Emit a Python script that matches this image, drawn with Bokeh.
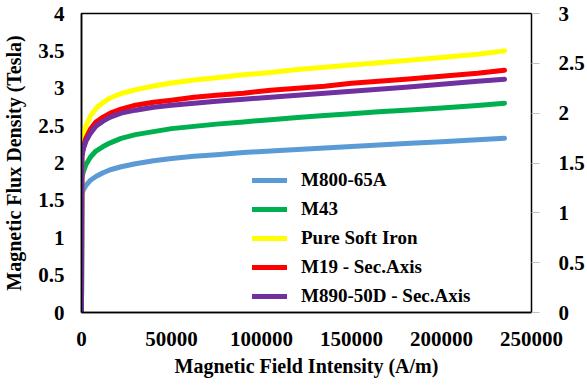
from bokeh.plotting import figure
from bokeh.models import Range1d, LinearAxis, Legend, LegendItem, NumeralTickFormatter, FixedTicker
from bokeh.embed import file_html
from bokeh.resources import INLINE

# Magnetic field intensity H (A/m)
field_h = [0, 200, 1000, 2500, 5000, 8000, 12000, 16000, 22000, 30000, 40000,
           50000, 62500, 75000, 90000, 105000, 120000, 135000, 150000, 165000,
           180000, 200000, 220000, 235000]

# Flux density B (Tesla) — primary axis
b_m800_65a = [0, 1.58, 1.64, 1.70, 1.77, 1.82, 1.87, 1.91, 1.95, 1.99, 2.03,
              2.06, 2.09, 2.11, 2.14, 2.16, 2.18, 2.20, 2.22, 2.24,
              2.26, 2.285, 2.31, 2.33]
b_m43 = [0, 1.80, 1.88, 1.98, 2.08, 2.16, 2.22, 2.27, 2.33, 2.38, 2.42,
         2.46, 2.49, 2.52, 2.55, 2.58, 2.61, 2.635, 2.66, 2.685,
         2.705, 2.735, 2.77, 2.80]
b_soft_iron = [0, 2.24, 2.36, 2.50, 2.63, 2.73, 2.81, 2.87, 2.93, 2.98, 3.03,
               3.07, 3.11, 3.14, 3.18, 3.21, 3.25, 3.28, 3.31, 3.34,
               3.37, 3.41, 3.455, 3.50]

# Flux density B (Tesla) — secondary axis
b_m19 = [0, 1.58, 1.66, 1.75, 1.84, 1.91, 1.96, 2.00, 2.04, 2.08, 2.11,
         2.13, 2.16, 2.18, 2.20, 2.23, 2.25, 2.27, 2.30, 2.32,
         2.34, 2.37, 2.40, 2.43]
b_m890_50d = [0, 1.56, 1.64, 1.72, 1.80, 1.87, 1.92, 1.96, 2.00, 2.03, 2.06,
              2.08, 2.10, 2.12, 2.14, 2.16, 2.18, 2.20, 2.22, 2.24,
              2.26, 2.29, 2.32, 2.34]

x_ticks = [0, 50000, 100000, 150000, 200000, 250000]
y_ticks = [0, 0.5, 1, 1.5, 2, 2.5, 3, 3.5, 4]
y2_ticks = [0, 0.5, 1, 1.5, 2, 2.5, 3]

FONT = "Liberation Serif"

p = figure(width=587, height=387, output_backend="svg", toolbar_location=None,
           x_range=Range1d(0, 250000), y_range=Range1d(0, 4),
           min_border_left=79, min_border_right=54, min_border_top=13,
           min_border_bottom=75)
p.extra_y_ranges = {"sec": Range1d(0, 3)}

p.grid.visible = False
p.outline_line_color = "black"
p.outline_line_width = 1.5
p.background_fill_color = "white"
p.border_fill_color = "white"

def style_axis(ax):
    ax.major_label_text_font = FONT
    ax.major_label_text_font_style = "bold"
    ax.major_label_text_font_size = "21px"
    ax.major_label_text_color = "black"
    ax.axis_label_text_font = FONT
    ax.axis_label_text_font_style = "bold"
    ax.axis_label_text_font_size = "20px"
    ax.axis_label_text_color = "black"
    ax.minor_tick_line_color = None

xa = p.xaxis[0]
style_axis(xa)
xa.ticker = FixedTicker(ticks=x_ticks)
xa.formatter = NumeralTickFormatter(format="0")
xa.major_tick_line_color = None
xa.axis_line_color = "black"
xa.axis_line_width = 1.5
xa.major_label_standoff = 13
xa.axis_label = "Magnetic Field Intensity (A/m)"
xa.axis_label_standoff = 6

ya = p.yaxis[0]
style_axis(ya)
ya.ticker = FixedTicker(ticks=y_ticks)
ya.formatter = NumeralTickFormatter(format="0.[0]")
ya.major_tick_line_color = None
ya.axis_line_color = "black"
ya.axis_line_width = 1.5
ya.major_label_standoff = 11
ya.axis_label = "Magnetic Flux Density (Tesla)"
ya.axis_label_standoff = 10

y2 = LinearAxis(y_range_name="sec")
style_axis(y2)
y2.ticker = FixedTicker(ticks=y2_ticks)
y2.formatter = NumeralTickFormatter(format="0.[0]")
y2.axis_line_color = None
y2.major_tick_line_color = "#BFBFBF"
y2.major_tick_in = 0
y2.major_tick_out = 8
y2.major_label_standoff = 19
p.add_layout(y2, "right")

W = 5
r1 = p.line(field_h, b_m800_65a, line_color="#5B9BD5", line_width=W, line_join="round", line_cap="round")
r2 = p.line(field_h, b_m43, line_color="#00B050", line_width=W, line_join="round", line_cap="round")
r3 = p.line(field_h, b_soft_iron, line_color="#FFFF00", line_width=W, line_join="round", line_cap="round")
r4 = p.line(field_h, b_m19, line_color="#FF0000", line_width=W, y_range_name="sec", line_join="round", line_cap="round")
r5 = p.line(field_h, b_m890_50d, line_color="#7030A0", line_width=W, y_range_name="sec", line_join="round", line_cap="round")

legend = Legend(items=[
    LegendItem(label="M800-65A", renderers=[r1]),
    LegendItem(label="M43", renderers=[r2]),
    LegendItem(label="Pure Soft Iron", renderers=[r3]),
    LegendItem(label="M19 - Sec.Axis", renderers=[r4]),
    LegendItem(label="M890-50D - Sec.Axis", renderers=[r5]),
], location=(171, 5))
legend.background_fill_alpha = 0
legend.border_line_color = None
legend.padding = 0
legend.margin = 0
legend.spacing = 7
legend.glyph_width = 35
legend.glyph_height = 20
legend.label_height = 20
legend.label_standoff = 14
legend.label_text_font = FONT
legend.label_text_font_style = "bold"
legend.label_text_font_size = "19px"
legend.label_text_color = "black"
p.add_layout(legend, "center")

open("out.html", "w").write(file_html(p, INLINE))
